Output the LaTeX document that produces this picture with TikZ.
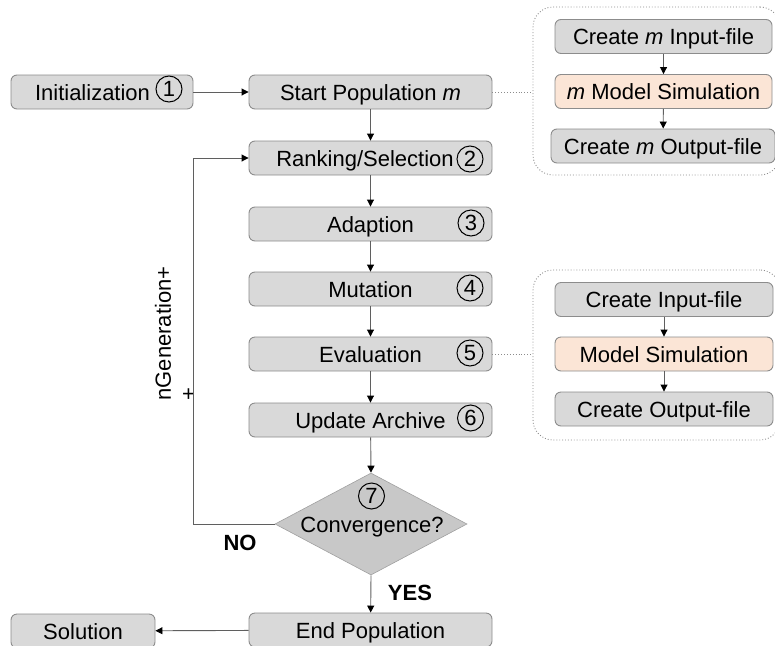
\documentclass[tikz,border=0pt]{standalone}
\usepackage{fontspec}
\setmainfont{Liberation Sans}
\usetikzlibrary{arrows.meta,shapes.geometric}

\definecolor{boxfill}{HTML}{D9D9D9}
\definecolor{boxline}{HTML}{8C8C8C}
\definecolor{simfill}{HTML}{FBE5D6}
\definecolor{decfill}{HTML}{C8C8C8}
\definecolor{wire}{HTML}{5F5F5F}
\definecolor{grpline}{HTML}{8C8C8C}

\begin{document}
\begin{tikzpicture}[x=1pt,y=-1pt,
  every node/.style={font=\fontsize{22}{25}\selectfont},
  box/.style={draw=boxline, fill=boxfill, rounded corners=6pt, line width=0.9pt,
    minimum height=34pt, inner sep=0pt, text height=16pt, text depth=0pt},
  sim/.style={box, fill=simfill},
  num/.style={circle, draw=black, line width=1pt, minimum size=26pt, inner sep=0pt},
  grp/.style={draw=grpline, dotted, line width=0.9pt, rounded corners=20pt,
    inner sep=0pt},
  flow/.style={draw=wire, line width=0.9pt, -{Triangle[length=7pt,width=7pt,black]}},
  link/.style={draw=grpline, dotted, line width=0.9pt}]

\useasboundingbox (0,0) rectangle (775,645);

% main column
\node[box, minimum width=182pt] (init) at (102,92) {Initialization\hspace*{19pt}};
\node[box, minimum width=243pt] (start) at (370.5,92) {Start Population \textit{m}};
\node[box, minimum width=243pt] (rank) at (370.5,158) {Ranking/Selection\hspace*{11pt}};
\node[box, minimum width=243pt] (adapt) at (370.5,224) {Adaption};
\node[box, minimum width=243pt] (mut) at (370.5,289) {Mutation};
\node[box, minimum width=243pt] (eval) at (370.5,354) {Evaluation};
\node[box, minimum width=243pt] (upd) at (370.5,420) {Update Archive};
\node[diamond, draw=decfill!80!black, fill=decfill, line width=0.6pt,
  minimum width=192pt, minimum height=102pt, inner sep=0pt] (conv) at (371,524) {};
\node[anchor=base, inner sep=0pt] (convT) at (372,532) {Convergence?};
\node[box, minimum width=243pt] (end) at (370.5,630) {End Population};
\node[box, minimum width=144pt] (sol) at (83,631) {Solution};

% step numbers
\node[num] (n1) at (169,89) {1};
\node[num] (n2) at (470,159) {2};
\node[num] (n3) at (471,223) {3};
\node[num] (n4) at (470,288) {4};
\node[num] (n5) at (470,353) {5};
\node[num] (n6) at (470.5,418) {6};
\node[num] (n7) at (371.5,496) {7};

% decision labels
\node[font=\fontsize{22}{25}\selectfont\bfseries, inner sep=0pt] (no) at (240,543) {NO};
\node[font=\fontsize{22}{25}\selectfont\bfseries, inner sep=0pt] (yes) at (410,593) {YES};
\node[rotate=90, align=left, inner sep=0pt] (gen) at (175.5,333.5) {nGeneration+\\+};

% simulation of the start population
\node[grp, minimum width=247pt, minimum height=168pt] (g1) at (656.5,91) {};
\node[box, minimum width=217pt] (c1) at (663.5,36.5) {Create \textit{m} Input-file};
\node[sim, minimum width=217pt] (s1) at (663.5,91.5) {\textit{m} Model Simulation};
\node[box, minimum width=224pt] (o1) at (663,146) {Create \textit{m} Output-file};

% simulation during evaluation
\node[grp, minimum width=247pt, minimum height=170pt] (g2) at (656.5,355) {};
\node[box, minimum width=218pt] (c2) at (664,299.5) {Create Input-file};
\node[sim, minimum width=218pt] (s2) at (664,354) {Model Simulation};
\node[box, minimum width=218pt] (o2) at (664,409) {Create Output-file};

% connectors
\coordinate (bend) at (193,524);
\draw[flow] (init) -- (start);
\draw[flow] (start) -- (rank);
\draw[flow] (rank) -- (adapt);
\draw[flow] (adapt) -- (mut);
\draw[flow] (mut) -- (eval);
\draw[flow] (eval) -- (upd);
\draw[flow] (upd) -- (conv.north);
\draw[flow] (conv.south) -- (end);
\draw[flow] (end) -- (sol);
\draw[flow] (conv.west) -- (bend) |- (rank.west);

\draw[flow] (c1) -- (s1);
\draw[flow] (s1) -- (o1);
\draw[flow] (c2) -- (s2);
\draw[flow] (s2) -- (o2);

\draw[link] (start.east) -- (start.east -| g1.west);
\draw[link] (eval.east) -- (eval.east -| g2.west);
\end{tikzpicture}
\end{document}
